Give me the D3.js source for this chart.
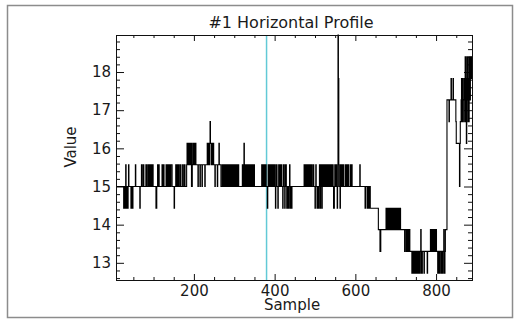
<!DOCTYPE html>
<html>
<head>
<meta charset="utf-8">
<script src="https://cdn.jsdelivr.net/npm/d3@7"></script>
<style>
  html, body { margin: 0; padding: 0; background: #fff; }
  svg text { font-family: "DejaVu Sans", sans-serif; fill: #1a1a1a; }
</style>
</head>
<body>
<svg id="chart" width="520" height="324"></svg>
<script>
const titleText = '#1 Horizontal Profile';
const xLabel = 'Sample';
const yLabel = 'Value';
const xDomain = [7, 889];
const yDomain = [12.55, 18.97];
const xTicks = [200, 400, 600, 800];
const yTicks = [13, 14, 15, 16, 17, 18];
const cursorSample = 380;

// profile as [sample, value] breakpoints, each value held until the next sample
const profileA = [
  [7,15],[26,14.43],[28,15],[29,14.43],[31,15.57],[32,14.43],[34,15],[35,14.43],[37,15],[38,15.57],[39,15],
  [44,14.43],[46,15],[48,14.43],[49,15],[55,15.57],[56,15],[66,14.43],[67,15],
  [70,15.57],[71,15],[74,15.57],[76,15],[81,15.57],[83,15],
  [86,15.57],[88,15],[89,15.57],[91,15],[92,15.57],[94,15],[95,15.57],[97,15],[98,15.57],[99,15],
  [106,14.43],[108,15],[110,15.57],[111,15],[113,15.57],[114,15],
  [121,15.57],[123,15],[125,15.57],[126,15],
  [131,15.57],[133,15],[134,15.57],[136,15],[137,15.57],[139,15],[140,15.57],[142,15],[143,15.57],[146,15],
  [151,14.43],[152,15],[155,15.57],[157,15],[158,15.57],[160,15],[162,15.57],[163,15],[166,15.57],[168,15],
  [172,15.57],[173,15],[176,15.57],[178,15],[182,15.57]
];

const profileB = [
  [183,16.13],[185,15.57],[186,16.13],[188,15.57],[189,16.13],[191,15.57],[192,16.13],[194,15],[196,15.57],
  [197,16.13],[199,15.57],[200,16.13],[202,15.57],[203,16.13],[205,15.57],
  [210,15],[211,15.57],[215,15],[216,15.57],[220,15],[221,15.57],[227,15],[228,15.57],
  [233,16.13],[235,15.57],[236,16.13],[238,15.57],[239,16.13],[240,16.7],[241,16.13],[243,15.57],[244,16.13],
  [246,15.57],[247,16.13],[249,15.57],
  [252,15],[253,15.57],[258,15],[259,15.57],[262,16.13],[263,15.57],[267,15],
  [270,15.57],[272,15],[273,15.57],[275,15],[276,15.57],[278,15],[279,15.57],[281,15],[282,15.57],[284,15],
  [285,15.57],[287,15],[288,15.57],[290,15],[291,15.57],[293,15],[294,15.57],[296,15],[297,15.57],[299,15],
  [300,15.57],[302,15],[303,15.57],[305,15],[306,15.57],[308,15],[309,15.57],[311,15],
  [320,15.57],[322,15],[324,16.13],[325,15.57],[326,15],[327,15.57],[329,15],[330,15.57],[332,15],
  [333,15.57],[335,15],[336,15.57],[338,15],[339,15.57],[341,15],[342,15.57],[344,15],[345,15.57],[347,15],
  [348,15.57],[350,15]
];

const profileC = [
  [368,15.57],[370,15],[371,15.57],[373,15],[374,15.57],[376,15],[377,15.57],[379,15],[382,14.43],[383,15],
  [384,15.57],[386,15],[387,15.57],[389,15],[390,15.57],[392,15],[393,15.57],[395,15],[396,15.57],[398,15],
  [399,15.57],[401,15],[402,14.43],[403,15],[404,15.57],[406,15],[408,14.43],[409,15],[410,15.57],[412,15],
  [413,15.57],[415,15],[416,15.57],[418,15],[420,14.43],[421,15],[422,15.57],[424,15],[425,14.43],[426,15],
  [427,15.57],[429,15],[430,14.43],[431,15],[432,14.43],[434,15],[435,14.43],[436,15],[437,15.57],[438,15],
  [439,14.43],[441,15],[442,14.43],[443,15],
  [473,15.57],[475,15],[476,15.57],[478,15],[479,15.57],[481,15],[482,15.57],[484,15],[485,15.57],[487,15],
  [488,15.57],[490,15],[491,15.57],[493,15],
  [496,15.57],[497,15],[500,14.43],[501,15],[502,15.57],[503,15],
  [505,14.43],[507,15],[508,14.43],[510,15],[511,15.57],[513,14.43],[514,15],[515,15.57],[517,14.43],[518,15],
  [519,15.57],[521,15],
  [522,15.57],[524,15],[525,15.57],[527,15],[528,15.57],[530,15],[531,15.57],[533,15],[534,15.57],[536,15],
  [537,15.57],[539,15],[540,15.57],[542,15],[543,15.57],[545,15],[546,14.43],[548,15],[549,15.57],[551,15],
  [552,15.57],[554,15],[555,14.43],[556,15],[557,18.97],[558,17.83],[559,15.57],[560,15]
];

const profileD = [
  [562,14.43],[563,15.57],[565,15],[566,15.57],[568,15],[569,15.57],[571,15],[575,15.57],[577,15],
  [578,15.57],[580,15],[581,15.57],[583,15],[587,15.57],[589,15],[590,15.57],[592,15],
  [611,15.57],[612,15],
  [624,14.43],[625,15],[629,14.43],[630,15],[631,14.43],[632,15],[634,14.43],[635,15],[637,14.43],
  [657,13.87],[661,13.3],[663,13.87],
  [676,14.43],[678,13.87],[679,14.43],[681,13.87],[682,14.43],[684,13.87],[685,14.43],[687,13.87],
  [688,14.43],[690,13.87],[691,14.43],[693,13.87],[694,14.43],[696,13.87],[698,14.43],[699,13.87],
  [701,14.43],[702,13.87],[704,14.43],[705,13.87],[707,14.43],[708,13.87],[710,14.43],[712,13.87],
  [722,13.3],[723,13.87],[726,13.3],[728,13.87],[729,13.3],[731,13.87],[732,13.3],[734,13.87],[735,13.3],
  [740,12.73],[742,13.3],[743,12.73],[745,13.3],[746,12.73],[748,13.3],[750,12.73],[751,13.3],[753,12.73],
  [754,13.3],[756,12.73],[758,13.3],[759,12.73],[761,13.3],[762,13.87],[763,13.3],[764,12.73],[766,13.3],
  [770,12.73],[771,13.3],[778,12.73],[779,13.3],[786,13.87],[787,13.3],[788,13.87],[790,13.3],[791,13.87],
  [793,13.3],[794,13.87],[796,13.3],[797,13.87],[799,13.3],[800,13.87],[801,13.3],
  [804,12.73],[806,13.3],[808,12.73],[809,13.3],[812,12.73],[814,13.3],[815,12.73],[817,13.3],[819,13.87],
  [820,12.73],[822,13.3]
];

const profileE = [
  [823,13.87],[827,17.27],[832,16.7],[833,17.27],[837,17.83],[838,17.27],[842,17.83],[843,17.27],
  [849,16.7],[850,16.13],[858,15],[859,16.13],[860,16.7],[862,17.27],[863,17.83],[864,16.7],[866,17.83],
  [867,17.27],[869,16.7],[870,17.83],[871,17.27],[872,18.4],[873,16.7],[874,17.83],[875,16.13],[876,18.4],
  [877,17.27],[878,18.4],[879,16.7],[880,17.83],[881,16.7],[882,18.4],[884,17.27],[885,18.4],[887,17.83],
  [888,18.4],[889,18.4]
];

const profile = [].concat(profileA, profileB, profileC, profileD, profileE);

const width = 520, height = 324;
const margin = { top: 35, right: 48, bottom: 44, left: 116 };
const innerWidth = width - margin.left - margin.right;
const innerHeight = height - margin.top - margin.bottom;

const svg = d3.select('#chart');

// outer gray border
svg.append('rect')
  .attr('x', 7.5).attr('y', 5.5)
  .attr('width', 505).attr('height', 312)
  .attr('fill', 'none')
  .attr('stroke', '#8c8c8c')
  .attr('stroke-width', 1.5);

const g = svg.append('g')
  .attr('transform', `translate(${margin.left},${margin.top})`);

const x = d3.scaleLinear().domain(xDomain).range([0, innerWidth]);
const y = d3.scaleLinear().domain(yDomain).range([innerHeight, 0]);

const xMinor = d3.range(50, 889, 50).filter(v => v % 200 !== 0);
const yMinor = d3.range(12.6, 18.97, 0.2).filter(v => Math.abs(v - Math.round(v)) > 0.05);

function styleAxis(sel) {
  sel.select('.domain').remove();
  sel.selectAll('line').attr('stroke', '#111');
  sel.selectAll('text')
    .style('font-size', '15px')
    .attr('fill', '#1a1a1a');
}

// bottom
g.append('g')
  .attr('transform', `translate(0,${innerHeight})`)
  .call(d3.axisBottom(x).tickValues(xTicks).tickSize(-6).tickSizeOuter(0).tickPadding(5).tickFormat(d3.format('d')))
  .call(styleAxis);
g.append('g')
  .attr('transform', `translate(0,${innerHeight})`)
  .call(d3.axisBottom(x).tickValues(xMinor).tickSize(-3).tickSizeOuter(0).tickFormat(''))
  .call(styleAxis);

// top
g.append('g')
  .call(d3.axisTop(x).tickValues(xTicks).tickSize(-6).tickSizeOuter(0).tickFormat(''))
  .call(styleAxis);
g.append('g')
  .call(d3.axisTop(x).tickValues(xMinor).tickSize(-3).tickSizeOuter(0).tickFormat(''))
  .call(styleAxis);

// left
g.append('g')
  .call(d3.axisLeft(y).tickValues(yTicks).tickSize(-8).tickSizeOuter(0).tickPadding(5).tickFormat(d3.format('d')))
  .call(styleAxis);
g.append('g')
  .call(d3.axisLeft(y).tickValues(yMinor).tickSize(-4).tickSizeOuter(0).tickFormat(''))
  .call(styleAxis);

// right
g.append('g')
  .attr('transform', `translate(${innerWidth},0)`)
  .call(d3.axisRight(y).tickValues(yTicks).tickSize(-8).tickSizeOuter(0).tickFormat(''))
  .call(styleAxis);
g.append('g')
  .attr('transform', `translate(${innerWidth},0)`)
  .call(d3.axisRight(y).tickValues(yMinor).tickSize(-4).tickSizeOuter(0).tickFormat(''))
  .call(styleAxis);

// cursor line
g.append('line')
  .attr('x1', x(cursorSample)).attr('x2', x(cursorSample))
  .attr('y1', 0).attr('y2', innerHeight)
  .attr('stroke', '#62c9d6')
  .attr('stroke-width', 1.5);

// profile
const line = d3.line()
  .x(d => x(d[0]))
  .y(d => y(d[1]))
  .curve(d3.curveStepAfter);

g.append('path')
  .datum(profile)
  .attr('d', line)
  .attr('fill', 'none')
  .attr('stroke', '#000')
  .attr('stroke-width', 1.1);

// frame
g.append('rect')
  .attr('x', 0.5).attr('y', 0.5)
  .attr('width', innerWidth).attr('height', innerHeight)
  .attr('fill', 'none')
  .attr('stroke', '#111')
  .attr('stroke-width', 1);

// title and labels
svg.append('text')
  .attr('x', margin.left + innerWidth / 2 - 3)
  .attr('y', 28)
  .attr('text-anchor', 'middle')
  .style('font-size', '16px')
  .text(titleText);

svg.append('text')
  .attr('x', margin.left + innerWidth / 2 - 2)
  .attr('y', 310)
  .attr('text-anchor', 'middle')
  .style('font-size', '15px')
  .text(xLabel);

svg.append('text')
  .attr('transform', `translate(76,${margin.top + 112}) rotate(-90)`)
  .attr('text-anchor', 'middle')
  .style('font-size', '15px')
  .text(yLabel);
</script>
</body>
</html>
